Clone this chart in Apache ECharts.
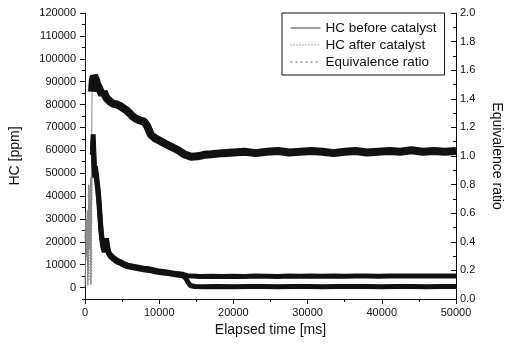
<!DOCTYPE html>
<html>
<head>
<meta charset="utf-8">
<script src="https://cdn.jsdelivr.net/npm/echarts@6/dist/echarts.min.js"></script>
<style>html,body{margin:0;padding:0;background:#fff}#c{width:512px;height:346px}</style>
</head>
<body>
<div id="c"></div>
<script>
// ---- data ----
const xTicks = [0, 10000, 20000, 30000, 40000, 50000];
const hcTicks = [0,10000,20000,30000,40000,50000,60000,70000,80000,90000,100000,110000,120000];
const seriesNames = ['HC before catalyst', 'HC after catalyst', 'Equivalence ratio'];

// HC before catalyst [time ms, ppm]
const hcBefore = [
  [0,0],[150,500],[200,30000],[300,22000],[380,1000],[450,15000],[550,36000],[650,20000],[750,48000],[850,28000],[950,52000],
  [1000,60000],[1100,67000],[1200,58000],[1300,50000],[1400,53000],[1550,49000],[1700,45000],[1850,40000],[2000,33000],
  [2150,26000],[2300,21000],[2450,18000],[2600,16500],[2750,18500],[2900,21500],[3000,19000],[3150,16000],[3400,14500],
  [3800,13200],[4300,12000],[4800,11300],[5300,10300],[5800,9800],[6500,9300],[7200,8900],[7900,8500],[8600,8200],
  [9300,7700],[10000,7200],[10800,6900],[11600,6500],[12400,6100],[13200,5800],[13800,5200],[14500,5000],[15500,4800],
  [17000,4900],[18500,4800],[20000,4900],[21500,4800],[23000,5000],[24500,4900],[26000,4800],[27500,5000],[29000,4900],
  [30500,5000],[32000,4900],[33500,5100],[35000,4900],[36500,5000],[38000,5000],[39500,4900],[41000,5100],[42500,5000],
  [44000,5100],[45500,5000],[47000,5100],[48500,5000],[50000,5100]
];
// HC after catalyst [time ms, ppm]
const hcAfter = [
  [0,20000],[100,33000],[200,12000],[300,25000],[400,5000],[500,45000],[580,3000],[660,40000],[740,10000],[820,47000],[900,4000],[980,55000],
  [1000,58000],[1100,64000],[1200,55000],[1300,48000],[1400,51000],[1550,47000],[1700,43000],[1850,38000],[2000,31000],
  [2150,24500],[2300,20000],[2450,17000],[2600,15500],[2750,17500],[2900,20500],[3000,18000],[3150,15000],[3400,13500],
  [3800,12400],[4300,11200],[4800,10500],[5300,9600],[5800,9100],[6500,8600],[7200,8200],[7900,7800],[8600,7500],
  [9300,7000],[10000,6600],[10800,6300],[11600,5900],[12400,5500],[13200,5200],[13600,4000],[13900,2200],[14200,900],
  [14800,450],[16000,400],[18000,500],[20000,400],[22000,450],[24000,500],[26000,400],[28000,450],[30000,500],[32000,400],
  [34000,450],[36000,500],[38000,450],[40000,400],[42000,500],[44000,450],[46000,400],[48000,500],[50000,450]
];
// Equivalence ratio [time ms, ratio]
const eqRatio = [
  [0,0.42],[100,0.55],[200,0.30],[320,0.62],[420,0.18],[520,0.80],[600,0.35],[700,0.78],[800,0.10],[880,0.95],[950,1.45],
  [1050,1.53],[1200,1.56],[1440,1.54],[1650,1.50],[1870,1.48],[2100,1.45],[2310,1.43],[2530,1.45],[2750,1.42],[2970,1.40],
  [3400,1.38],[3840,1.365],[4300,1.36],[4710,1.35],[5150,1.335],[5580,1.32],[6000,1.30],[6460,1.275],[6900,1.26],
  [7330,1.25],[7980,1.24],[8420,1.205],[8860,1.15],[9400,1.125],[9950,1.11],[10820,1.085],[11690,1.063],[12570,1.04],
  [13440,1.01],[14310,0.995],[15180,0.998],[16060,1.008],[17000,1.012],[18500,1.02],[20000,1.025],[21500,1.03],
  [23000,1.02],[24500,1.03],[26000,1.035],[27500,1.025],[29000,1.03],[30500,1.035],[32000,1.03],[33500,1.02],
  [35000,1.03],[36500,1.035],[38000,1.025],[39500,1.03],[41000,1.035],[42500,1.03],[44000,1.04],[45500,1.03],
  [47000,1.035],[48500,1.03],[50000,1.035]
];
const splitTimes = [1000, 1000, 950]; // early (thin, grey) vs main (thick, black) portion

// ---- chart ----
const FONT = "'Liberation Sans', Arial, sans-serif";
const chart = echarts.init(document.getElementById('c'), null, {renderer: 'canvas'});
const sets = [hcBefore, hcAfter, eqRatio];
const axisIdx = [0, 0, 1];
const widths = [5, 5, 8];
const series = [];
sets.forEach((d, i) => {
  const st = splitTimes[i];
  series.push({
    name: seriesNames[i], type: 'line', yAxisIndex: axisIdx[i], symbol: 'none', animation: false,
    itemStyle: {color: '#111'},
    data: d.filter(p => p[0] >= st), lineStyle: {color: '#111', width: widths[i]}, z: 3
  });
});
sets.forEach((d, i) => {
  const st = splitTimes[i];
  series.push({
    name: seriesNames[i], type: 'line', yAxisIndex: axisIdx[i], symbol: 'none', animation: false,
    itemStyle: {color: '#8a8a8a'},
    data: d.filter(p => p[0] <= st + 100), lineStyle: {color: '#8a8a8a', width: 1, type: i === 1 ? [1, 2] : 'solid'}, z: 2
  });
});

const legendStyles = [
  {color: '#444', width: 1, type: 'solid'},
  {color: '#555', width: 1, type: [1, 2]},
  {color: '#666', width: 1, type: [2, 3]}
];
const plain = v => String(v);

chart.setOption({
  animation: false,
  color: ['#111', '#111', '#111', '#8a8a8a', '#8a8a8a', '#8a8a8a'],
  textStyle: {fontFamily: FONT},
  grid: {left: 84, right: 46, top: 13, bottom: 47},
  legend: {
    orient: 'vertical', left: 282, top: 13,
    padding: [8, 8, 6, 8], itemGap: 3, itemWidth: 30, itemHeight: 14,
    borderColor: '#111', borderWidth: 1, backgroundColor: '#fff',
    textStyle: {fontFamily: FONT, fontSize: 13.5, color: '#111'},
    data: seriesNames.map((n, i) => ({
      name: n, lineStyle: legendStyles[i],
      itemStyle: {color: 'rgba(0,0,0,0)', borderColor: 'rgba(0,0,0,0)', borderWidth: 0, opacity: 0}
    }))
  },
  xAxis: {
    type: 'value', min: 0, max: 50000, interval: 10000,
    name: 'Elapsed time [ms]', nameLocation: 'middle', nameGap: 20,
    nameTextStyle: {fontSize: 14, color: '#111', fontFamily: FONT},
    axisLine: {show: true, onZero: false, lineStyle: {color: '#111', width: 1}},
    axisTick: {show: true, length: 5, lineStyle: {color: '#111'}},
    minorTick: {show: true, splitNumber: 2, length: 3, lineStyle: {color: '#111'}},
    axisLabel: {fontSize: 11, color: '#111', margin: 8, fontFamily: FONT, formatter: plain},
    splitLine: {show: false}
  },
  yAxis: [
    {
      type: 'value', position: 'left', min: -5000, max: 120000,
      name: 'HC [ppm]', nameLocation: 'middle', nameGap: 63, nameRotate: 90,
      nameTextStyle: {fontSize: 14, color: '#111', fontFamily: FONT},
      axisLine: {show: true, onZero: false, lineStyle: {color: '#111', width: 1}},
      axisTick: {show: true, length: 5, customValues: hcTicks, lineStyle: {color: '#111'}},
      axisLabel: {fontSize: 11, color: '#111', margin: 9, customValues: hcTicks, fontFamily: FONT, formatter: plain},
      splitLine: {show: false}
    },
    {
      type: 'value', position: 'right', min: 0, max: 2, interval: 0.2,
      name: 'Equivalence ratio', nameLocation: 'middle', nameGap: 34, nameRotate: -90,
      nameTextStyle: {fontSize: 14, color: '#111', fontFamily: FONT},
      axisLine: {show: true, onZero: false, lineStyle: {color: '#111', width: 1}},
      axisTick: {show: true, inside: true, length: 5, lineStyle: {color: '#111'}},
      minorTick: {show: true, splitNumber: 2, length: 3, lineStyle: {color: '#111'}},
      axisLabel: {fontSize: 11, color: '#111', margin: 4, formatter: v => v.toFixed(1), fontFamily: FONT},
      splitLine: {show: false}
    },
    {
      type: 'value', position: 'left', min: -5000, max: 120000, interval: 5000,
      axisLine: {show: false}, axisLabel: {show: false}, splitLine: {show: false},
      axisTick: {show: true, length: 3, lineStyle: {color: '#111'}}
    }
  ],
  series: series
});
</script>
</body>
</html>
